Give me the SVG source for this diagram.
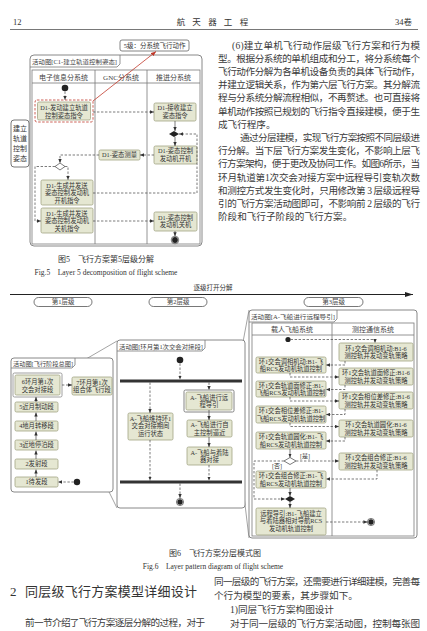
<svg xmlns="http://www.w3.org/2000/svg" width="427" height="631" viewBox="0 0 427 631">
<defs>
<style>
text{font-family:"Liberation Serif","Noto Sans CJK SC",serif;fill:#333}
.b{font-size:9.6px;fill:#3a3a3a}
.bx{fill:#e5e7d2;stroke:#a2a584;stroke-width:0.8}
.bt{font-size:6.3px;text-anchor:middle;fill:#333}
.fr{fill:#fff;stroke:#7a7a7a;stroke-width:0.9}
.ln{fill:none;stroke:#7a7a7a;stroke-width:0.8}
.tab{font-size:6.2px;fill:#444}
.hd{font-size:7px;text-anchor:middle;fill:#444}
.d{fill:none;stroke:#444;stroke-width:0.7;stroke-dasharray:2.4 1.6}
.s{fill:none;stroke:#444;stroke-width:0.7}
.z{fill:none;stroke:#666;stroke-width:0.6}
.pill{fill:#fff;stroke:#555;stroke-width:0.8}
.pt{font-size:6.5px;text-anchor:middle;fill:#444}
.cap{font-size:8px;text-anchor:middle;fill:#333}
.capE{font-size:7.5px;text-anchor:middle;fill:#333}
</style>
<marker id="ah" viewBox="0 0 6 6" refX="6" refY="3" markerWidth="4" markerHeight="4" orient="auto" markerUnits="userSpaceOnUse"><path d="M0,0.5L6,3L0,5.5z" fill="#333"/></marker>
<marker id="ahr" viewBox="0 0 6 6" refX="6" refY="3" markerWidth="5" markerHeight="5" orient="auto" markerUnits="userSpaceOnUse"><path d="M0,0.5L6,3L0,5.5z" fill="#c0392b"/></marker>
<marker id="ahb" viewBox="0 0 8 6" refX="8" refY="3" markerWidth="9" markerHeight="6" orient="auto" markerUnits="userSpaceOnUse"><path d="M0,0.5L8,3L0,5.5z" fill="#222"/></marker>
</defs>
<rect width="427" height="631" fill="#fff"/>

<!-- page header -->
<g id="page-header">
<text x="13" y="25" font-size="8.5">12</text>
<text x="181 196.5 212.5 228 244" y="25" font-size="8.5" text-anchor="middle">航天器工程</text>
<text x="412" y="25" font-size="8.5" text-anchor="end">34卷</text>
<line x1="10" y1="29.5" x2="418" y2="29.5" stroke="#555" stroke-width="0.8"/>
</g>

<!-- body text right column -->
<g id="body-top">
<text class="b" x="232" y="48.5" textLength="188" lengthAdjust="spacing">(6)建立单机飞行动作层级飞行方案和行为模</text>
<text class="b" x="218" y="61.7" textLength="202" lengthAdjust="spacing">型。根据分系统的单机组成和分工，将分系统每个</text>
<text class="b" x="218" y="74.9" textLength="202" lengthAdjust="spacing">飞行动作分解为各单机设备负责的具体飞行动作，</text>
<text class="b" x="218" y="88.1" textLength="202" lengthAdjust="spacing">并建立逻辑关系，作为第六层飞行方案。其分解流</text>
<text class="b" x="218" y="101.3" textLength="202" lengthAdjust="spacing">程与分系统分解流程相似，不再赘述。也可直接将</text>
<text class="b" x="218" y="114.5" textLength="202" lengthAdjust="spacing">单机动作按照已规划的飞行指令直接建模，便于生</text>
<text class="b" x="218" y="127.7">成飞行程序。</text>
<text class="b" x="240" y="140.9" textLength="180" lengthAdjust="spacing">通过分层建模，实现飞行方案按照不同层级进</text>
<text class="b" x="218" y="154.1" textLength="202" lengthAdjust="spacing">行分解。当下层飞行方案发生变化，不影响上层飞</text>
<text class="b" x="218" y="167.3" textLength="202" lengthAdjust="spacing">行方案架构，便于更改及协同工作。如图6所示，当</text>
<text class="b" x="218" y="180.5" textLength="202" lengthAdjust="spacing">环月轨道第1次交会对接方案中远程导引变轨次数</text>
<text class="b" x="218" y="193.7" textLength="202" lengthAdjust="spacing">和测控方式发生变化时，只用修改第 3 层级远程导</text>
<text class="b" x="218" y="206.9" textLength="202" lengthAdjust="spacing">引的飞行方案活动图即可，不影响前 2 层级的飞行</text>
<text class="b" x="218" y="220.1">阶段和飞行子阶段的飞行方案。</text>
</g>

<!-- ============ Figure 5 ============ -->
<g id="fig5-frame">
<rect class="fr" x="30" y="55" width="172" height="191" rx="4"/>
<path class="ln" d="M30,67H117L120,64V55"/>
<text class="tab" x="32" y="63.8" textLength="85" lengthAdjust="spacingAndGlyphs">活动图[C1-建立轨道控制姿态]</text>
<rect class="ln" x="32" y="70" width="168" height="174"/>
<line class="ln" x1="32" y1="83" x2="200" y2="83"/>
<line class="ln" x1="95" y1="70" x2="95" y2="244"/>
<line class="ln" x1="147" y1="70" x2="147" y2="244"/>
<text class="hd" x="63.5" y="79.5">电子信息分系统</text>
<text class="hd" x="121" y="79.5">GNC分系统</text>
<text class="hd" x="173.5" y="79.5">推进分系统</text>
</g>

<g id="fig5-level-label">
<rect x="120" y="40" width="69" height="11" rx="2" fill="#fff" stroke="#666" stroke-width="0.8"/>
<text x="154.5" y="48" font-size="6.5" text-anchor="middle" fill="#444">5级：分系统飞行动作</text>
</g>

<g id="fig5-side-label">
<rect x="11" y="120" width="18" height="47" rx="3" fill="#fff" stroke="#555" stroke-width="0.8"/>
<text x="20" y="131" font-size="7" text-anchor="middle">建立</text>
<text x="20" y="141" font-size="7" text-anchor="middle">轨道</text>
<text x="20" y="151" font-size="7" text-anchor="middle">控制</text>
<text x="20" y="161" font-size="7" text-anchor="middle">姿态</text>
</g>

<g id="f5-start"><circle cx="65" cy="88" r="3.3" fill="#222"/></g>

<g id="f5-A">
<rect x="35" y="100" width="58" height="22" rx="2" fill="none" stroke="#c0392b" stroke-width="0.8" stroke-dasharray="2.5 1.5"/>
<rect class="bx" x="37.5" y="102" width="53" height="18" rx="1.5"/>
<text class="bt" x="64" y="109.5" font-size="6.5">D1-发动建立轨道</text>
<text class="bt" x="64" y="117.5" font-size="6.5">控制姿态指令</text>
</g>
<g id="f5-B">
<rect class="bx" x="154" y="103" width="42" height="18" rx="1.5"/>
<text class="bt" x="175" y="110.3">D1-接收建立</text>
<text class="bt" x="175" y="117.8">姿态指令</text>
</g>
<g id="f5-merge"><polygon points="169,134 174,131 179,134 174,137" fill="#222"/></g>
<g id="f5-C">
<rect class="bx" x="154" y="146" width="43" height="18" rx="1.5"/>
<text class="bt" x="175.5" y="153.3">D1-姿态控制</text>
<text class="bt" x="175.5" y="160.8">发动机开机</text>
</g>
<g id="f5-D">
<rect class="bx" x="99" y="150" width="41" height="10" rx="1.5"/>
<text class="bt" x="119.5" y="157.3">D1-姿态测量</text>
</g>
<g id="f5-decision"><polygon points="55,166.5 60,163 65,166.5 60,170" fill="#fff" stroke="#444" stroke-width="0.7"/></g>
<g id="f5-E">
<rect class="bx" x="41" y="180" width="52" height="25" rx="1.5"/>
<text class="bt" x="67" y="187.5">D1-生成并发送</text>
<text class="bt" x="67" y="195">姿态控制发动机</text>
<text class="bt" x="67" y="202.5">开机指令</text>
</g>
<g id="f5-F">
<rect class="bx" x="41" y="208" width="52" height="25" rx="1.5"/>
<text class="bt" x="67" y="215.5">D1-生成并发送</text>
<text class="bt" x="67" y="223">姿态控制发动机</text>
<text class="bt" x="67" y="230.5">关机指令</text>
</g>
<g id="f5-G">
<rect class="bx" x="154" y="212" width="43" height="19" rx="1.5"/>
<text class="bt" x="175.5" y="219.5">D1-姿态控制</text>
<text class="bt" x="175.5" y="227.2">发动机关机</text>
</g>
<g id="f5-end"><circle cx="175" cy="240" r="3.8" fill="#fff" stroke="#222" stroke-width="0.6"/><circle cx="175" cy="240" r="2.9" fill="#222"/></g>

<g id="f5-connectors">
<path class="d" d="M65,91.5V100" marker-end="url(#ah)"/>
<path d="M93,101L156,51.5" fill="none" stroke="#c0392b" stroke-width="0.8" marker-end="url(#ahr)"/>
<path class="d" d="M93,112H154" marker-end="url(#ah)"/>
<path class="s" d="M175,121V131" marker-end="url(#ah)"/>
<path class="s" d="M175,137V146" marker-end="url(#ah)"/>
<path class="d" d="M154,155H140" marker-end="url(#ah)"/>
<path class="d" d="M99,155H60V163" marker-end="url(#ah)"/>
<path class="d" d="M55,166.5H35V221H41" marker-end="url(#ah)"/>
<path class="d" d="M65,166.5H68V180" marker-end="url(#ah)"/>
<path class="d" d="M93,193H197V134H179" marker-end="url(#ah)"/>
<path class="d" d="M93,221H154" marker-end="url(#ah)"/>
<path class="s" d="M175,231V236.2" marker-end="url(#ah)"/>
</g>

<g id="fig5-caption">
<text class="cap" x="106" y="262">图5　飞行方案第5层级分解</text>
<text class="capE" x="106" y="275">Fig.5　Layer 5 decomposition of flight scheme</text>
</g>

<!-- ============ Figure 6 ============ -->
<g id="fig6-top">
<text x="213" y="290" font-size="6.5" text-anchor="middle" fill="#444">逐级打开分解</text>
<path d="M10,294.5H413" stroke="#222" stroke-width="1" marker-end="url(#ahb)"/>
<rect class="pill" x="34" y="297.5" width="58" height="9" rx="4.5"/>
<text class="pt" x="63" y="304.3">第1层级</text>
<rect class="pill" x="149" y="297.5" width="58" height="9" rx="4.5"/>
<text class="pt" x="178" y="304.3">第2层级</text>
<rect class="pill" x="304" y="297.5" width="59" height="9" rx="4.5"/>
<text class="pt" x="333.5" y="304.3">第3层级</text>
</g>

<!-- zoom lines -->
<g id="zoom-lines">
<line class="z" x1="62" y1="373" x2="117" y2="341"/>
<line class="z" x1="62" y1="397" x2="117" y2="508"/>
<line class="z" x1="234" y1="390" x2="249" y2="310"/>
<line class="z" x1="234" y1="412" x2="249" y2="538"/>
</g>

<!-- left frame -->
<g id="f6-left-frame">
<rect class="fr" x="11" y="358" width="102" height="134" rx="3"/>
<path class="ln" d="M11,368H72L75,365V358"/>
<text class="tab" x="13" y="365.8" textLength="60" lengthAdjust="spacingAndGlyphs">活动图[飞行阶段总图]</text>
</g>
<g id="p6">
<rect x="13" y="373" width="49" height="24" rx="1.5" fill="none" stroke="#888" stroke-width="0.8"/>
<rect class="bx" x="15" y="375" width="45" height="20" rx="1.5"/>
<text class="bt" x="37.5" y="383.5">6环月第1次</text>
<text class="bt" x="37.5" y="391.5">交会对接段</text>
</g>
<g id="p7">
<rect class="bx" x="72" y="377" width="40" height="18" rx="1.5"/>
<text class="bt" x="92" y="384.5">7环月第1次</text>
<text class="bt" x="92" y="392">组合体飞行段</text>
</g>
<g id="p5"><rect class="bx" x="15" y="402" width="43" height="10" rx="1.5"/><text class="bt" x="36.5" y="409.3">5近月制动段</text></g>
<g id="p4"><rect class="bx" x="15" y="421" width="43" height="10" rx="1.5"/><text class="bt" x="36.5" y="428.3">4地月转移段</text></g>
<g id="p3"><rect class="bx" x="15" y="440" width="43" height="10" rx="1.5"/><text class="bt" x="36.5" y="447.3">3近地停泊段</text></g>
<g id="p2"><rect class="bx" x="15" y="459" width="43" height="10" rx="1.5"/><text class="bt" x="36.5" y="466.3">2发射段</text></g>
<g id="p1"><rect class="bx" x="15" y="477" width="43" height="10" rx="1.5"/><text class="bt" x="36.5" y="484.3">1待发段</text></g>
<g id="p-start"><circle cx="77" cy="482" r="3.2" fill="#222"/></g>

<!-- middle frame -->
<g id="f6-mid-frame">
<rect class="fr" x="117" y="340" width="128" height="168" rx="3"/>
<path class="ln" d="M117,351H202L205,348V340"/>
<text class="tab" x="119" y="348.6" textLength="84" lengthAdjust="spacingAndGlyphs">活动图[环月第1次交会对接段]</text>
</g>
<g id="m-start"><circle cx="180" cy="360" r="3.3" fill="#222"/></g>
<g id="m-fork"><rect x="120" y="379.5" width="122" height="3" fill="#333"/></g>
<g id="m-L">
<rect class="bx" x="128" y="413" width="45" height="27" rx="1.5"/>
<text class="bt" x="150.5" y="420.5">A-飞船维持环1</text>
<text class="bt" x="150.5" y="428">交会对接期间</text>
<text class="bt" x="150.5" y="435.5">运行状态</text>
</g>
<g id="m-R1">
<rect x="184" y="390" width="50" height="22" rx="1.5" fill="none" stroke="#777" stroke-width="0.9"/>
<rect class="bx" x="186" y="392" width="46" height="18" rx="1.5"/>
<text class="bt" x="209" y="399.5">A-飞船进行远</text>
<text class="bt" x="209" y="407">程导引</text>
</g>
<g id="m-R2">
<rect class="bx" x="187" y="420" width="45" height="17" rx="1.5"/>
<text class="bt" x="209.5" y="427">A-飞船进行自</text>
<text class="bt" x="209.5" y="434.5">主控制逼近</text>
</g>
<g id="m-R3">
<rect class="bx" x="187" y="447" width="45" height="18" rx="1.5"/>
<text class="bt" x="209.5" y="454.5">A-飞船与着陆</text>
<text class="bt" x="209.5" y="462">器对接</text>
</g>
<g id="m-join"><rect x="120" y="480.5" width="122" height="3" fill="#333"/></g>
<g id="m-end"><circle cx="180" cy="502" r="3.6" fill="#fff" stroke="#222" stroke-width="0.6"/><circle cx="180" cy="502" r="2.7" fill="#222"/></g>

<!-- right frame -->
<g id="f6-right-frame">
<rect class="fr" x="249" y="310" width="168" height="228" rx="3"/>
<path class="ln" d="M249,322H334L337,319V310"/>
<text class="tab" x="251" y="319.2" textLength="84" lengthAdjust="spacingAndGlyphs">活动图[A-飞船进行远程导引]</text>
<rect class="ln" x="252" y="323" width="162" height="213"/>
<line class="ln" x1="252" y1="335" x2="414" y2="335"/>
<line class="ln" x1="332" y1="323" x2="332" y2="536"/>
<text class="hd" x="292" y="332">载人飞船系统</text>
<text class="hd" x="373" y="332">测控通信系统</text>
</g>
<g id="r-start"><circle cx="288" cy="339.5" r="2.6" fill="#222"/></g>
<g id="RB1"><rect class="bx" x="339" y="343" width="74" height="18" rx="1.5"/><text class="bt" x="376" y="350.5" font-size="6">环1交会调相机动:B1-6</text><text class="bt" x="376" y="358" font-size="6">测控轨并发动变轨策略</text></g>
<g id="RB2"><rect class="bx" x="339" y="368" width="74" height="17" rx="1.5"/><text class="bt" x="376" y="375" font-size="6">环1交会轨道面修正:B1-6</text><text class="bt" x="376" y="382.5" font-size="6">测控轨并发动变轨策略</text></g>
<g id="RB3"><rect class="bx" x="339" y="392" width="74" height="17" rx="1.5"/><text class="bt" x="376" y="399" font-size="6">环1交会相位差修正:B1-6</text><text class="bt" x="376" y="406.5" font-size="6">测控轨并发动变轨策略</text></g>
<g id="RB4"><rect class="bx" x="339" y="420" width="74" height="17" rx="1.5"/><text class="bt" x="376" y="427" font-size="6">环1交会轨道圆化:B1-6</text><text class="bt" x="376" y="434.5" font-size="6">测控轨并发动变轨策略</text></g>
<g id="RB5"><rect class="bx" x="339" y="453" width="74" height="17" rx="1.5"/><text class="bt" x="376" y="460" font-size="6">环1交会组合修正:B1-6</text><text class="bt" x="376" y="467.5" font-size="6">测控轨并发动变轨策略</text></g>
<g id="LB1"><rect class="bx" x="256" y="357" width="70" height="16" rx="1.5"/><text class="bt" x="291" y="363.8" font-size="6">环1交会调相机动:B1-飞</text><text class="bt" x="291" y="371" font-size="6">船RCS发动机轨道控制</text></g>
<g id="LB2"><rect class="bx" x="256" y="381" width="70" height="16" rx="1.5"/><text class="bt" x="291" y="387.8" font-size="6">环1交会轨道面修正:B1-</text><text class="bt" x="291" y="395" font-size="6">飞船RCS发动机轨道控制</text></g>
<g id="LB3"><rect class="bx" x="256" y="406" width="70" height="17" rx="1.5"/><text class="bt" x="291" y="413" font-size="6">环1交会相位差修正:B1-</text><text class="bt" x="291" y="420.5" font-size="6">飞船RCS发动机轨道控制</text></g>
<g id="LB4"><rect class="bx" x="256" y="432" width="70" height="17" rx="1.5"/><text class="bt" x="291" y="439" font-size="6">环1交会轨道圆化:B1-飞</text><text class="bt" x="291" y="446.5" font-size="6">船RCS发动机轨道控制</text></g>
<g id="r-decision"><polygon points="284,461 290,457.5 296,461 290,464.5" fill="#fff" stroke="#444" stroke-width="0.7"/>
<text x="300" y="458" font-size="6" fill="#444">[是]</text>
<text x="272" y="468" font-size="6" fill="#444">[否]</text></g>
<g id="LB5"><rect class="bx" x="256" y="471" width="70" height="17" rx="1.5"/><text class="bt" x="291" y="478" font-size="6">环1交会组合修正:B1-飞</text><text class="bt" x="291" y="485.5" font-size="6">船RCS发动机轨道控制</text></g>
<g id="r-merge"><polygon points="285,499 290,496 295,499 290,502" fill="#222"/></g>
<g id="LB6"><rect class="bx" x="256" y="508" width="70" height="27" rx="1.5"/><text class="bt" x="291" y="515.5" font-size="6">远程导引:B1-飞船建立</text><text class="bt" x="291" y="523" font-size="6">与着陆器相对导航RCS</text><text class="bt" x="291" y="530.5" font-size="6">发动机轨道控制</text></g>
<g id="r-end"><circle cx="371" cy="522" r="3.6" fill="#fff" stroke="#222" stroke-width="0.6"/><circle cx="371" cy="522" r="2.7" fill="#222"/></g>

<g id="f6-connectors">
<path class="s" d="M36,477V469.5" marker-end="url(#ah)"/>
<path class="s" d="M36,459V450.5" marker-end="url(#ah)"/>
<path class="s" d="M36,440V431.5" marker-end="url(#ah)"/>
<path class="s" d="M36,421V412.5" marker-end="url(#ah)"/>
<path class="s" d="M36,402V397" marker-end="url(#ah)"/>
<path class="d" d="M62,385H72" marker-end="url(#ah)"/>
<path class="d" d="M73.8,482H58" marker-end="url(#ah)"/>
<path class="d" d="M180,363.5V379.5" marker-end="url(#ah)"/>
<path class="d" d="M150,382.5V413" marker-end="url(#ah)"/>
<path class="d" d="M209,382.5V390" marker-end="url(#ah)"/>
<path class="s" d="M209,410V420" marker-end="url(#ah)"/>
<path class="s" d="M209,437V447" marker-end="url(#ah)"/>
<path class="d" d="M150,440V480.5" marker-end="url(#ah)"/>
<path class="d" d="M209,465V480.5" marker-end="url(#ah)"/>
<path class="d" d="M180,483.5V498" marker-end="url(#ah)"/>
<path class="d" d="M290.6,339.5H375V343" marker-end="url(#ah)"/>
<path class="d" d="M345,361V365H326" marker-end="url(#ah)"/>
<path class="d" d="M290,373V377H339" marker-end="url(#ah)"/>
<path class="d" d="M345,385V389.5H326" marker-end="url(#ah)"/>
<path class="d" d="M290,397V401H339" marker-end="url(#ah)"/>
<path class="d" d="M345,409V414.5H326" marker-end="url(#ah)"/>
<path class="d" d="M290,423V426.5H339" marker-end="url(#ah)"/>
<path class="d" d="M345,437V441H326" marker-end="url(#ah)"/>
<path class="s" d="M290,449V457.5" marker-end="url(#ah)"/>
<path class="d" d="M296,461H339" marker-end="url(#ah)"/>
<path class="d" d="M284,461H254V499H285" marker-end="url(#ah)"/>
<path class="d" d="M377,470V479H326" marker-end="url(#ah)"/>
<path class="s" d="M290,488V496" marker-end="url(#ah)"/>
<path class="s" d="M290,502V508" marker-end="url(#ah)"/>
<path class="d" d="M326,522H367.4" marker-end="url(#ah)"/>
</g>

<g id="fig6-caption">
<text class="cap" x="215" y="556">图6　飞行方案分层模式图</text>
<text class="capE" x="213" y="569">Fig.6　Layer pattern diagram of flight scheme</text>
</g>

<g id="body-bottom">
<text x="10" y="596" font-size="13">2</text>
<text x="25" y="596" font-size="13" textLength="172" lengthAdjust="spacing">同层级飞行方案模型详细设计</text>
<text class="b" x="25" y="626" textLength="180" lengthAdjust="spacing">前一节介绍了飞行方案逐层分解的过程，对于</text>
<text class="b" x="214" y="584.5" textLength="206" lengthAdjust="spacing">同一层级的飞行方案，还需要进行详细建模，完善每</text>
<text class="b" x="214" y="598.5">个行为模型的要素，其步骤如下。</text>
<text class="b" x="230" y="612.5">1)同层飞行方案构图设计</text>
<text class="b" x="230" y="626.5" textLength="190" lengthAdjust="spacing">对于同一层级的飞行方案活动图，控制每张图</text>
</g>
</svg>
